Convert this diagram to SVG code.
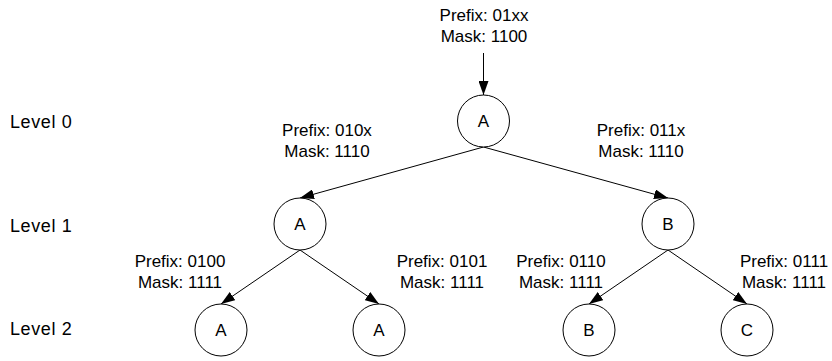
<svg xmlns="http://www.w3.org/2000/svg" width="832" height="361" viewBox="0 0 832 361">
<defs>
<style>
text{font-family:"Liberation Sans",Arial,sans-serif;font-size:17px;fill:#000}
.lbl{text-anchor:middle}
.lev{font-size:18px;letter-spacing:0.6px}
circle{fill:#fff;stroke:#000;stroke-width:1}
.edge{stroke:#000;stroke-width:1;fill:none;marker-end:url(#ah)}
</style>
<marker id="ah" viewBox="0 0 14 10" refX="14" refY="5" markerWidth="14" markerHeight="10" markerUnits="userSpaceOnUse" orient="auto">
<path d="M0,0 L14,5 L0,10 Z" fill="#000"/>
</marker>
</defs>
<rect width="832" height="361" fill="#fff"/>
<g id="levels">
<text class="lev" x="10" y="128">Level 0</text>
<text class="lev" x="10" y="232">Level 1</text>
<text class="lev" x="10" y="335">Level 2</text>
</g>
<g id="connectors">
<line class="edge" x1="483.5" y1="53" x2="483.5" y2="95"/>
<line class="edge" x1="483.5" y1="147" x2="300" y2="198"/>
<line class="edge" x1="483.5" y1="147" x2="668" y2="198"/>
<line class="edge" x1="300" y1="250" x2="221" y2="304"/>
<line class="edge" x1="300" y1="250" x2="379" y2="304"/>
<line class="edge" x1="668" y1="250" x2="589" y2="304"/>
<line class="edge" x1="668" y1="250" x2="747" y2="304"/>
</g>
<g id="edge-labels">
<text class="lbl" x="484" y="21">Prefix: 01xx</text>
<text class="lbl" x="484" y="42">Mask: 1100</text>
<text class="lbl" x="327" y="136">Prefix: 010x</text>
<text class="lbl" x="327" y="157">Mask: 1110</text>
<text class="lbl" x="641" y="136">Prefix: 011x</text>
<text class="lbl" x="641" y="157">Mask: 1110</text>
<text class="lbl" x="180" y="267">Prefix: 0100</text>
<text class="lbl" x="180" y="288">Mask: 1111</text>
<text class="lbl" x="442" y="267">Prefix: 0101</text>
<text class="lbl" x="442" y="288">Mask: 1111</text>
<text class="lbl" x="561" y="267">Prefix: 0110</text>
<text class="lbl" x="561" y="288">Mask: 1111</text>
<text class="lbl" x="784" y="267">Prefix: 0111</text>
<text class="lbl" x="784" y="288">Mask: 1111</text>
</g>
<g id="n0"><circle cx="483.5" cy="121" r="26"/><text class="lbl" x="483.5" y="127">A</text></g>
<g id="n1"><circle cx="300" cy="224" r="26"/><text class="lbl" x="300" y="230">A</text></g>
<g id="n2"><circle cx="668" cy="224" r="26"/><text class="lbl" x="668" y="230">B</text></g>
<g id="n3"><circle cx="221" cy="330" r="26"/><text class="lbl" x="221" y="336">A</text></g>
<g id="n4"><circle cx="379" cy="330" r="26"/><text class="lbl" x="379" y="336">A</text></g>
<g id="n5"><circle cx="589" cy="330" r="26"/><text class="lbl" x="589" y="336">B</text></g>
<g id="n6"><circle cx="747" cy="330" r="26"/><text class="lbl" x="747" y="336">C</text></g>
</svg>
